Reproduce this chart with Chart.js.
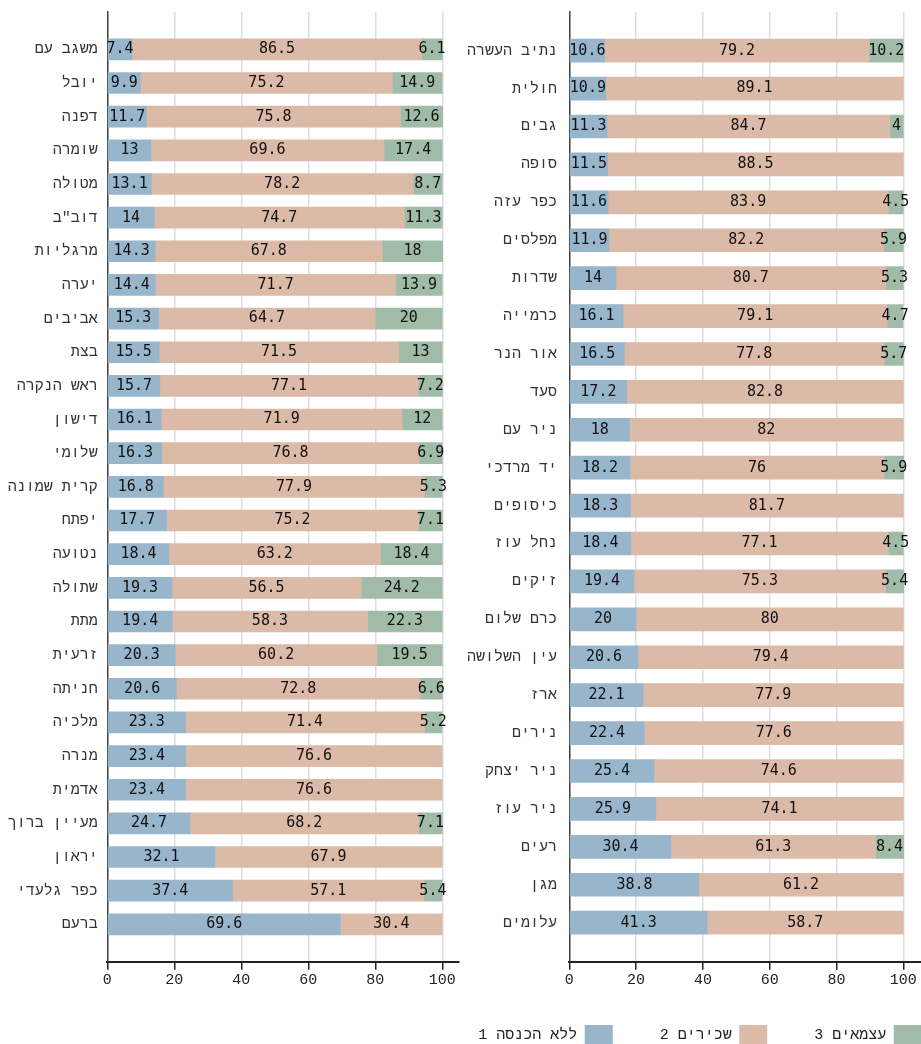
<!DOCTYPE html>
<html><head><meta charset="utf-8">
<script src="https://cdn.jsdelivr.net/npm/chart.js@4.4.1/dist/chart.umd.min.js"></script>
<style>
html,body{margin:0;padding:0;background:#fff;overflow:hidden;width:921px;height:1044px;position:relative;}
#c1{position:absolute;left:0;top:0;}
#c2{position:absolute;left:427px;top:0;}
</style></head><body>
<canvas id="c1" width="460" height="1044"></canvas>
<canvas id="c2" width="546" height="1055"></canvas>
<script>
const seriesLabels = ['ללא הכנסה 1', 'שכירים 2', 'עצמאים 3'];
const xTickValues = [0, 20, 40, 60, 80, 100];

const leftCategories = ['משגב עם','יובל','דפנה','שומרה','מטולה','דוב"ב','מרגליות','יערה','אביבים','בצת','ראש הנקרה','דישון','שלומי','קרית שמונה','יפתח','נטועה','שתולה','מתת','זרעית','חניתה','מלכיה','מנרה','אדמית','מעיין ברוך','יראון','כפר גלעדי','ברעם'];
const leftNoIncome =     [7.4, 9.9, 11.7, 13, 13.1, 14, 14.3, 14.4, 15.3, 15.5, 15.7, 16.1, 16.3, 16.8, 17.7, 18.4, 19.3, 19.4, 20.3, 20.6, 23.3, 23.4, 23.4, 24.7, 32.1, 37.4, 69.6];
const leftEmployees =    [86.5, 75.2, 75.8, 69.6, 78.2, 74.7, 67.8, 71.7, 64.7, 71.5, 77.1, 71.9, 76.8, 77.9, 75.2, 63.2, 56.5, 58.3, 60.2, 72.8, 71.4, 76.6, 76.6, 68.2, 67.9, 57.1, 30.4];
const leftSelfEmployed = [6.1, 14.9, 12.6, 17.4, 8.7, 11.3, 18, 13.9, 20, 13, 7.2, 12, 6.9, 5.3, 7.1, 18.4, 24.2, 22.3, 19.5, 6.6, 5.2, null, null, 7.1, null, 5.4, null];

const rightCategories = ['נתיב העשרה','חולית','גבים','סופה','כפר עזה','מפלסים','שדרות','כרמייה','אור הנר','סעד','ניר עם','יד מרדכי','כיסופים','נחל עוז','זיקים','כרם שלום','עין השלושה','ארז','נירים','ניר יצחק','ניר עוז','רעים','מגן','עלומים'];
const rightNoIncome =     [10.6, 10.9, 11.3, 11.5, 11.6, 11.9, 14, 16.1, 16.5, 17.2, 18, 18.2, 18.3, 18.4, 19.4, 20, 20.6, 22.1, 22.4, 25.4, 25.9, 30.4, 38.8, 41.3];
const rightEmployees =    [79.2, 89.1, 84.7, 88.5, 83.9, 82.2, 80.7, 79.1, 77.8, 82.8, 82, 76, 81.7, 77.1, 75.3, 80, 79.4, 77.9, 77.6, 74.6, 74.1, 61.3, 61.2, 58.7];
const rightSelfEmployed = [10.2, null, 4, null, 4.5, 5.9, 5.3, 4.7, 5.7, null, null, 5.9, null, 4.5, 5.4, null, null, null, null, null, null, 8.4, null, null];

const COLORS = ['#98b6cb', '#dcbaa8', '#a0bca8'];
const FONT = '"Liberation Mono", "DejaVu Sans Mono", monospace';
const VALUE_FONT = '"DejaVu Sans Mono", "Liberation Mono", monospace';

const valueLabels = {
  id: 'valueLabels',
  afterDatasetsDraw(chart) {
    const ctx = chart.ctx;
    ctx.save();
    ctx.font = '15px ' + VALUE_FONT;
    ctx.fillStyle = '#111';
    ctx.textAlign = 'center';
    ctx.textBaseline = 'middle';
    chart.data.datasets.forEach((ds, di) => {
      const meta = chart.getDatasetMeta(di);
      meta.data.forEach((el, i) => {
        const v = ds.data[i].x;
        if (v === null || v === undefined) return;
        const p = el.getProps(['x', 'base', 'y'], true);
        ctx.fillText(String(v), (p.x + p.base) / 2, p.y);
      });
    });
    ctx.restore();
  }
};

function makeChart(id, cats, a, b, c, cfg) {
  const toPts = arr => arr.map((v, i) => ({x: v, y: i}));
  const series = [a, b, c];
  return new Chart(document.getElementById(id), {
    type: 'bar',
    data: {
      datasets: series.map((arr, k) => ({
        label: seriesLabels[k],
        data: toPts(arr),
        backgroundColor: COLORS[k],
        borderWidth: 0,
        barThickness: cfg.barThickness
      }))
    },
    options: {
      indexAxis: 'y',
      responsive: false,
      animation: false,
      events: [],
      layout: {padding: cfg.padding},
      scales: {
        x: {
          type: 'linear', stacked: true, min: 0, max: cfg.xMax,
          afterBuildTicks: s => { s.ticks = xTickValues.map(v => ({value: v})); },
          afterFit: s => { s.height = cfg.xAxisHeight; s._computeLabelArea = () => undefined; },
          grid: {color: '#dddddd', lineWidth: 1.5, tickColor: '#222', tickWidth: 1.5, tickLength: 8},
          border: {display: true, color: '#222', width: 2},
          ticks: {font: {family: FONT, size: 15}, color: '#222', padding: 1, autoSkip: false, maxRotation: 0}
        },
        y: {
          type: 'linear', stacked: true, reverse: true, offset: false, min: cfg.yMin, max: cfg.yMax,
          afterBuildTicks: s => { s.ticks = cats.map((_, i) => ({value: i})); },
          afterFit: s => { s.width = cfg.yAxisWidth; s.paddingTop = 0; s.paddingBottom = 0; },
          grid: {display: false, drawTicks: false, offset: false},
          border: {display: true, color: '#444', width: 1.5},
          ticks: {callback: v => cats[v], font: {family: FONT, size: 15}, color: '#333', padding: cfg.yPad, autoSkip: false}
        }
      },
      plugins: {
        legend: cfg.legend,
        tooltip: {enabled: false}
      }
    },
    plugins: [valueLabels]
  });
}

makeChart('c1', leftCategories, leftNoIncome, leftEmployees, leftSelfEmployed, {
  barThickness: 21, xMax: 104.78, yMin: -1.11, yMax: 27.11, yAxisWidth: 107.3, yPad: 9.6,
  xAxisHeight: 40, padding: {top: 12, right: 1.7, bottom: 42.3, left: 0},
  legend: {display: false}
});

makeChart('c2', rightCategories, rightNoIncome, rightEmployees, rightSelfEmployed, {
  barThickness: 23, xMax: 120.87, yMin: -1.02, yMax: 24.03, yAxisWidth: 142.3, yPad: 12.3,
  xAxisHeight: 16.3, padding: {top: 12, right: 0, bottom: 0, left: 0},
  legend: {
    display: true, position: 'bottom', align: 'center', rtl: true, reverse: true, textDirection: 'rtl',
    labels: {boxWidth: 28, boxHeight: 20, padding: 47, color: '#222', font: {family: FONT, size: 15}}
  }
});
</script>
</body></html>
